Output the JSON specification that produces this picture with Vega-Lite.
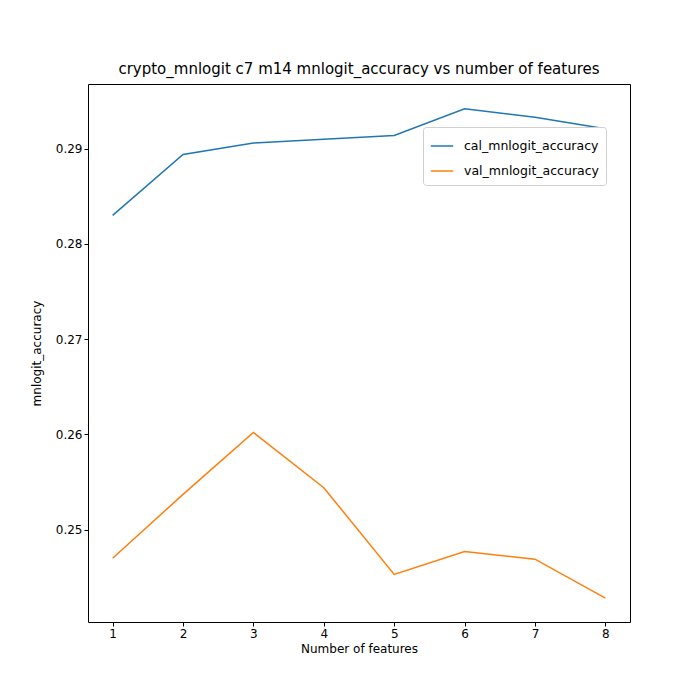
{
  "$schema": "https://vega.github.io/schema/vega-lite/v6.json",
  "width": 542,
  "height": 538,
  "autosize": {"type": "none"},
  "padding": {"left": 88, "top": 84, "right": 70, "bottom": 78},
  "background": "white",
  "title": {"text": "crypto_mnlogit c7 m14 mnlogit_accuracy vs number of features", "fontSize": 15, "font": "DejaVu Sans", "fontWeight": "normal", "offset": 7},
  "data": {
    "values": [
      {"n": 1, "series": "cal_mnlogit_accuracy", "acc": 0.2830},
      {"n": 2, "series": "cal_mnlogit_accuracy", "acc": 0.2894},
      {"n": 3, "series": "cal_mnlogit_accuracy", "acc": 0.2906},
      {"n": 4, "series": "cal_mnlogit_accuracy", "acc": 0.2910},
      {"n": 5, "series": "cal_mnlogit_accuracy", "acc": 0.2914},
      {"n": 6, "series": "cal_mnlogit_accuracy", "acc": 0.2942},
      {"n": 7, "series": "cal_mnlogit_accuracy", "acc": 0.2933},
      {"n": 8, "series": "cal_mnlogit_accuracy", "acc": 0.2921},
      {"n": 1, "series": "val_mnlogit_accuracy", "acc": 0.2470},
      {"n": 2, "series": "val_mnlogit_accuracy", "acc": 0.2537},
      {"n": 3, "series": "val_mnlogit_accuracy", "acc": 0.2602},
      {"n": 4, "series": "val_mnlogit_accuracy", "acc": 0.2544},
      {"n": 5, "series": "val_mnlogit_accuracy", "acc": 0.2453},
      {"n": 6, "series": "val_mnlogit_accuracy", "acc": 0.2477},
      {"n": 7, "series": "val_mnlogit_accuracy", "acc": 0.2469},
      {"n": 8, "series": "val_mnlogit_accuracy", "acc": 0.2428}
    ]
  },
  "mark": {"type": "line", "strokeWidth": 1.5},
  "encoding": {
    "x": {"field": "n", "type": "quantitative", "title": "Number of features",
      "scale": {"domain": [0.65, 8.35], "nice": false, "zero": false},
      "axis": {"values": [1,2,3,4,5,6,7,8], "format": "d"}},
    "y": {"field": "acc", "type": "quantitative", "title": "mnlogit_accuracy",
      "scale": {"domain": [0.2403, 0.2968], "nice": false, "zero": false},
      "axis": {"values": [0.25, 0.26, 0.27, 0.28, 0.29], "format": ".2f", "titlePadding": 12}},
    "color": {"field": "series", "type": "nominal",
      "scale": {"domain": ["cal_mnlogit_accuracy", "val_mnlogit_accuracy"], "range": ["#1f77b4", "#ff7f0e"]},
      "legend": {"title": null, "orient": "none", "legendX": 335, "legendY": 43, "symbolType": "stroke", "symbolStrokeWidth": 1.5, "symbolSize": 500, "labelFontSize": 12.5, "labelFont": "DejaVu Sans", "padding": 7, "strokeColor": "#d0d0d0", "fillColor": "white", "cornerRadius": 3, "rowPadding": 6, "labelOffset": 10}}
  },
  "config": {
    "view": {"stroke": "black", "strokeWidth": 1},
    "axis": {"grid": false, "domain": false, "tickColor": "black", "tickSize": 4, "labelColor": "black", "labelFontSize": 12, "labelFont": "DejaVu Sans", "titleFont": "DejaVu Sans", "titleFontSize": 12, "titleFontWeight": "normal", "titleColor": "black"}
  }
}
